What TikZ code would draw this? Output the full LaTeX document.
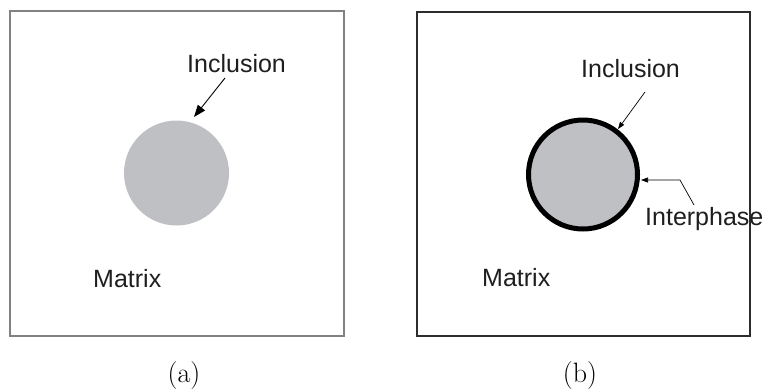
\documentclass[tikz,border=0pt]{standalone}
\usepackage{fontspec}
\usetikzlibrary{arrows.meta}
\newfontfamily\lab{Liberation Sans}
\definecolor{incgrey}{RGB}{190,192,196}
\definecolor{frameA}{RGB}{130,130,130}
\definecolor{frameB}{RGB}{45,45,45}
\definecolor{txt}{RGB}{30,30,30}
\begin{document}
\begin{tikzpicture}[x=1pt,y=-1pt,
  lbl/.style={font=\lab\fontsize{25}{30}\selectfont, text=txt, inner sep=0, anchor=base west},
  subcap/.style={font=\fontsize{28}{34}\selectfont, inner sep=0, anchor=base},
  framebox/.style={draw=#1, line width=1.3pt, rectangle, inner sep=0},
  bigtip/.style={line width=0.9pt, -{Triangle[length=12pt,width=9pt]}},
  smalltip/.style={line width=0.7pt, -{Triangle[length=7pt,width=5pt]}}]
\useasboundingbox (0,0) rectangle (767,389);
% frames
\node[framebox=frameA, minimum width=334pt, minimum height=325pt] (boxA) at (177,173.5) {};
\node[framebox=frameB, minimum width=333pt, minimum height=324pt] (boxB) at (583.5,174) {};
% (a)
\node[circle, fill=incgrey, inner sep=0, minimum size=105pt] (incA) at (176.5,173) {};
\node[lbl] (labIncA) at (187,72) {Inclusion};
\node[lbl] (matA) at (93,287) {Matrix};
\coordinate (sA) at (225,78);
\coordinate (eA) at (194,117);
\draw[bigtip] (sA) -- (eA);
\node[subcap] (capA) at (184,382) {(a)};
% (b)
\node[circle, fill=incgrey, draw=black, line width=5pt, inner sep=0, minimum size=109pt] (incB) at (583,174.5) {};
\node[lbl] (labIncB) at (581,77) {Inclusion};
\node[lbl] (labInt) at (645,225) {Interphase};
\node[lbl] (matB) at (482,286) {Matrix};
\coordinate (sB) at (645,92);
\coordinate (eB) at (618,129);
\draw[smalltip] (sB) -- (eB);
\coordinate (sI) at (694,205);
\coordinate (kI) at (680,180);
\coordinate (eI) at (641,180);
\draw[smalltip] (sI) -- (kI) -- (eI);
\node[subcap] (capB) at (580,382) {(b)};
\end{tikzpicture}
\end{document}
